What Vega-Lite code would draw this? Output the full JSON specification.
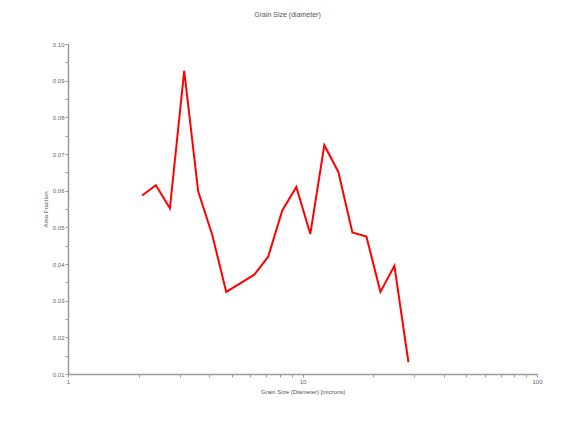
{
  "$schema": "https://vega.github.io/schema/vega-lite/v6.json",
  "width": 469,
  "height": 330,
  "autosize": {"type": "none"},
  "padding": {"left": 68, "top": 44, "right": 36, "bottom": 49},
  "background": "white",
  "title": {
    "text": "Grain Size (diameter)",
    "font": "Liberation Sans",
    "fontSize": 7,
    "fontWeight": "normal",
    "color": "#555555",
    "anchor": "middle",
    "dx": -15,
    "offset": 23
  },
  "data": {
    "values": [
      {"diameter": 2.07, "fraction": 0.0587},
      {"diameter": 2.37, "fraction": 0.0615},
      {"diameter": 2.72, "fraction": 0.0552},
      {"diameter": 3.13, "fraction": 0.0927},
      {"diameter": 3.59, "fraction": 0.0598},
      {"diameter": 4.12, "fraction": 0.0480},
      {"diameter": 4.73, "fraction": 0.0324},
      {"diameter": 5.42, "fraction": 0.0347},
      {"diameter": 6.23, "fraction": 0.0371},
      {"diameter": 7.14, "fraction": 0.0420},
      {"diameter": 8.20, "fraction": 0.0546},
      {"diameter": 9.41, "fraction": 0.0610},
      {"diameter": 10.80, "fraction": 0.0482},
      {"diameter": 12.39, "fraction": 0.0724},
      {"diameter": 14.22, "fraction": 0.0651},
      {"diameter": 16.32, "fraction": 0.0486},
      {"diameter": 18.73, "fraction": 0.0475},
      {"diameter": 21.49, "fraction": 0.0324},
      {"diameter": 24.66, "fraction": 0.0395},
      {"diameter": 28.30, "fraction": 0.0132}
    ]
  },
  "mark": {"type": "line", "color": "#ff0000", "strokeWidth": 2, "clip": true},
  "encoding": {
    "x": {
      "field": "diameter",
      "type": "quantitative",
      "scale": {"type": "log", "domain": [1, 100], "nice": false},
      "axis": {
        "title": "Grain Size (Diameter) [microns]",
        "values": [1, 2, 3, 4, 5, 6, 7, 8, 9, 10, 20, 30, 40, 50, 60, 70, 80, 90, 100],
        "labelExpr": "(datum.value == 1 || datum.value == 10 || datum.value == 100) ? datum.value : ''",
        "grid": false,
        "titlePadding": 4
      }
    },
    "y": {
      "field": "fraction",
      "type": "quantitative",
      "scale": {"domain": [0.01, 0.1], "nice": false, "zero": false},
      "axis": {
        "title": "Area Fraction",
        "values": [0.01, 0.015, 0.02, 0.025, 0.03, 0.035, 0.04, 0.045, 0.05, 0.055, 0.06, 0.065, 0.07, 0.075, 0.08, 0.085, 0.09, 0.095, 0.1],
        "labelExpr": "(round(datum.value * 1000) % 10 == 0) ? format(datum.value, '.2f') : ''",
        "grid": false,
        "titlePadding": 4
      }
    }
  },
  "config": {
    "view": {"stroke": null},
    "axis": {
      "labelFont": "Liberation Sans",
      "titleFont": "Liberation Sans",
      "labelFontSize": 6,
      "titleFontSize": 6,
      "titleFontWeight": "normal",
      "labelColor": "#666666",
      "titleColor": "#555555",
      "domainColor": "#999999",
      "domainWidth": 1.5,
      "tickColor": "#999999",
      "tickSize": 3,
      "labelPadding": 1,
      "labelFlush": false,
      "labelOverlap": false
    }
  }
}
